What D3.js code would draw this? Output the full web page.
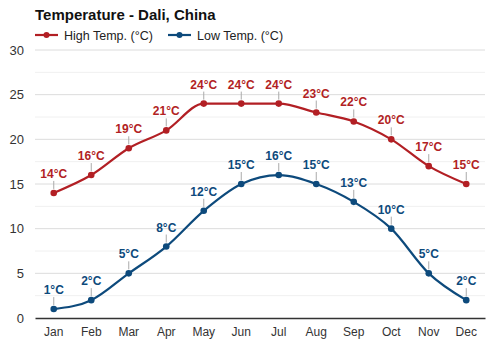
<!DOCTYPE html>
<html><head><meta charset="utf-8">
<script src="https://cdn.jsdelivr.net/npm/d3@7"></script>
<style>body{margin:0;background:#fff;} text{font-family:"Liberation Sans",Arial,sans-serif;}</style>
</head><body><svg id="c" width="500" height="350"></svg>
<script>
const months = ["Jan","Feb","Mar","Apr","May","Jun","Jul","Aug","Sep","Oct","Nov","Dec"];
const highTemps = [14,16,19,21,24,24,24,23,22,20,17,15];
const lowTemps = [1,2,5,8,12,15,16,15,13,10,5,2];
const yTicks = [0,5,10,15,20,25,30];
const yMinor = [2.5,7.5,12.5,17.5,22.5,27.5];
const seriesNames = ["High Temp. (°C)","Low Temp. (°C)"];
const colors = ["#b21f24","#0d4a7c"];

const svg = d3.select("#c");
const m = {l:35, r:15, t:50, b:32};
const W = 500, H = 350;
const x = d3.scaleBand().domain(months).range([m.l, W-m.r]);
const y = d3.scaleLinear().domain([0,30]).range([H-m.b, m.t]);
const cx = d => x(d) + x.bandwidth()/2;

svg.append("text").attr("x",35).attr("y",20).attr("font-size",15).attr("font-weight","bold").attr("fill","#111").text("Temperature - Dali, China");

// gridlines
svg.append("g").selectAll("line").data(yMinor).join("line")
  .attr("x1",m.l).attr("x2",W-m.r).attr("y1",d=>y(d)).attr("y2",d=>y(d)).attr("stroke","#f0f0f0");
svg.append("g").selectAll("line").data(yTicks.filter(d=>d>0)).join("line")
  .attr("x1",m.l).attr("x2",W-m.r).attr("y1",d=>y(d)).attr("y2",d=>y(d)).attr("stroke","#dcdcdc");

const yAxis = svg.append("g").attr("transform",`translate(${m.l},0)`).call(d3.axisLeft(y).tickValues(yTicks).tickSize(0).tickPadding(11));
yAxis.select(".domain").remove();
yAxis.selectAll("text").attr("font-size",13).attr("fill","#333").style("font-family","Liberation Sans, Arial, sans-serif");

const xAxis = svg.append("g").attr("transform",`translate(0,${H-m.b})`).call(d3.axisBottom(x).tickSize(0).tickPadding(9));
xAxis.select(".domain").attr("stroke","#333").attr("stroke-width",1.5);
xAxis.selectAll("text").attr("font-size",12).attr("fill","#333").style("font-family","Liberation Sans, Arial, sans-serif");

const line = d3.line().x((d,i)=>cx(months[i])).y(d=>y(d)).curve(d3.curveMonotoneX);
[highTemps, lowTemps].forEach((data, si) => {
  const g = svg.append("g");
  g.append("path").datum(data).attr("d",line).attr("fill","none").attr("stroke",colors[si]).attr("stroke-width",2.2);
  g.selectAll("line.ld").data(data).join("line").attr("class","ld")
    .attr("x1",(d,i)=>cx(months[i])).attr("x2",(d,i)=>cx(months[i]))
    .attr("y1",d=>y(d)-4).attr("y2",d=>y(d)-12).attr("stroke","#aaa").attr("stroke-width",1);
  g.selectAll("circle").data(data).join("circle")
    .attr("cx",(d,i)=>cx(months[i])).attr("cy",d=>y(d)).attr("r",3.3).attr("fill",colors[si]);
  g.selectAll("text").data(data).join("text")
    .attr("x",(d,i)=>cx(months[i])).attr("y",d=>y(d)-15).attr("text-anchor","middle")
    .attr("font-size",12).attr("font-weight","bold").attr("fill",colors[si]).text(d=>d+"°C");
});

// legend
const lg = svg.append("g");
const lx = [35, 168];
seriesNames.forEach((n,i)=>{
  lg.append("line").attr("x1",lx[i]).attr("x2",lx[i]+23).attr("y1",35).attr("y2",35).attr("stroke",colors[i]).attr("stroke-width",2.2);
  lg.append("circle").attr("cx",lx[i]+11.5).attr("cy",35).attr("r",3).attr("fill",colors[i]);
  lg.append("text").attr("x",lx[i]+29).attr("y",39.5).attr("font-size",12.5).attr("fill","#222").text(n);
});
</script></body></html>
